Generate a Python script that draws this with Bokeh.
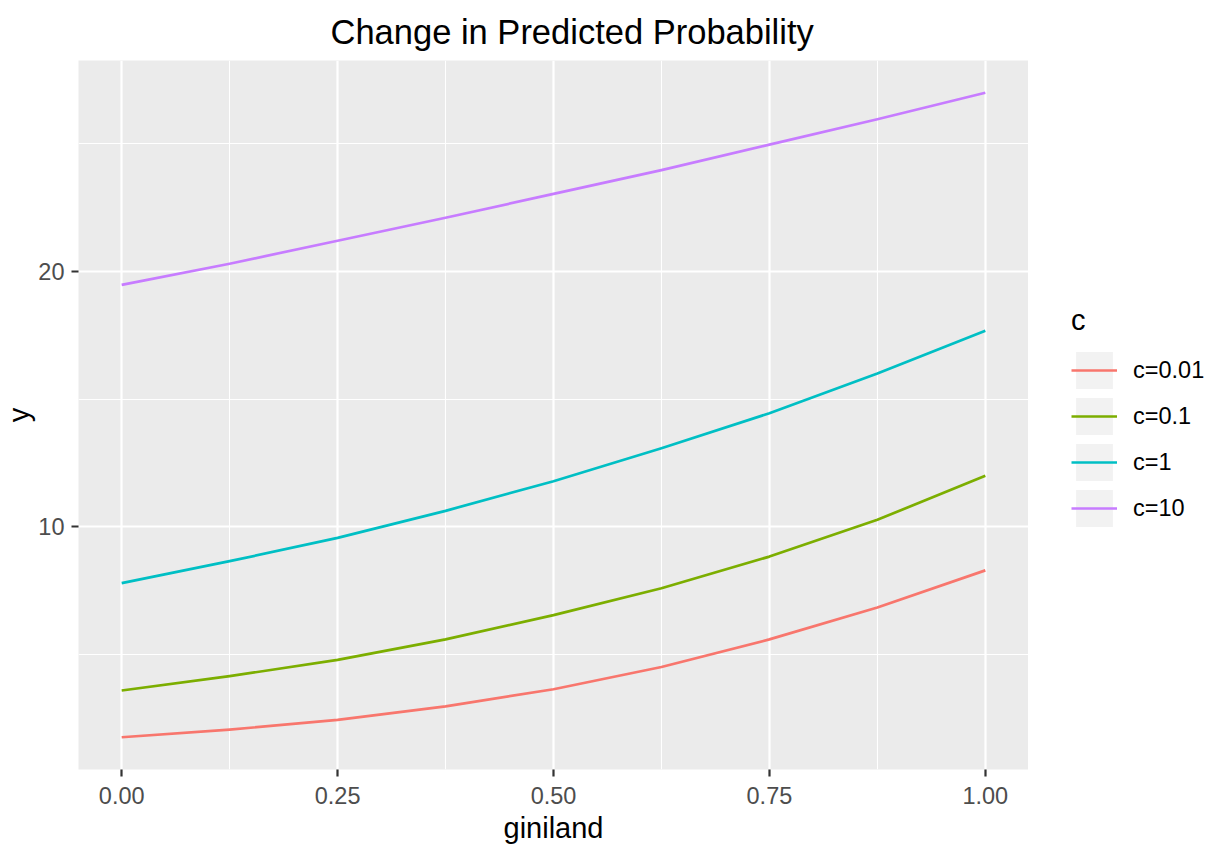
from bokeh.plotting import figure
from bokeh.layouts import row
from bokeh.models import (Legend, LegendItem, FixedTicker, NumeralTickFormatter, Range1d)
from bokeh.embed import file_html
from bokeh.resources import INLINE

# ---- data ----
giniland = [0.0, 0.125, 0.25, 0.375, 0.5, 0.625, 0.75, 0.875, 1.0]
y_c001 = [1.77, 2.07, 2.45, 2.98, 3.65, 4.52, 5.60, 6.85, 8.30]
y_c01 = [3.60, 4.16, 4.80, 5.60, 6.55, 7.60, 8.84, 10.28, 12.00]
y_c1 = [7.80, 8.66, 9.57, 10.63, 11.79, 13.08, 14.45, 16.00, 17.68]
y_c10 = [19.47, 20.30, 21.20, 22.10, 23.03, 23.96, 24.96, 25.95, 26.99]

series_labels = ["c=0.01", "c=0.1", "c=1", "c=10"]
series_values = [y_c001, y_c01, y_c1, y_c10]
series_colors = ["#F8766D", "#7CAE00", "#00BFC4", "#C77CFF"]

x_ticks = [0.0, 0.25, 0.5, 0.75, 1.0]
x_minor = [0.125, 0.375, 0.625, 0.875]
y_ticks = [10, 20]
y_minor = [5, 15, 25]

FONT = "Liberation Sans"

all_y = [v for s in series_values for v in s]
ymin, ymax = min(all_y), max(all_y)
ypad = 0.05 * (ymax - ymin)
xpad = 0.05 * (max(giniland) - min(giniland))
xr = Range1d(min(giniland) - xpad, max(giniland) + xpad)
yr = Range1d(ymin - ypad, ymax + ypad)

# ---- main panel ----
p = figure(width=1028, height=846, output_backend="svg", toolbar_location=None,
           x_range=xr, y_range=yr,
           min_border_left=78, min_border_right=0,
           min_border_top=59, min_border_bottom=74)

p.background_fill_color = "#EBEBEB"
p.border_fill_color = "white"
p.outline_line_color = None

p.title.text = "Change in Predicted Probability"
p.title.text_font = FONT
p.title.text_font_size = "34.5px"
p.title.text_font_style = "normal"
p.title.text_color = "black"
p.title.align = "left"
p.title.offset = 252
p.title.vertical_align = "bottom"
p.title.standoff = 20

p.xaxis.ticker = FixedTicker(ticks=x_ticks, minor_ticks=x_minor)
p.yaxis.ticker = FixedTicker(ticks=y_ticks, minor_ticks=y_minor)
p.xaxis.formatter = NumeralTickFormatter(format="0.00")
p.xaxis.axis_label = "giniland"
p.yaxis.axis_label = "y"

for ax in (p.xaxis, p.yaxis):
    ax.axis_line_color = None
    ax.major_tick_line_color = "#333333"
    ax.major_tick_line_width = 2.2
    ax.major_tick_out = 7
    ax.major_tick_in = 0
    ax.minor_tick_line_color = None
    ax.major_label_text_font = FONT
    ax.major_label_text_font_size = "23.5px"
    ax.major_label_text_color = "#4D4D4D"
    ax.axis_label_text_font = FONT
    ax.axis_label_text_font_size = "29px"
    ax.axis_label_text_font_style = "normal"
    ax.axis_label_text_color = "black"
p.xaxis.major_label_standoff = 10
p.xaxis.axis_label_standoff = 5
p.yaxis.major_label_standoff = 7
p.yaxis.axis_label_standoff = 0

for g in (p.xgrid, p.ygrid):
    g.grid_line_color = "white"
    g.grid_line_width = 2.2
    g.minor_grid_line_color = "white"
    g.minor_grid_line_width = 1.1

for ys, col in zip(series_values, series_colors):
    p.line(giniland, ys, line_color=col, line_width=2.7, line_join="round")

# ---- legend column (separate canvas to the right of the panel) ----
pl = figure(width=183, height=846, output_backend="svg", toolbar_location=None,
            x_range=xr, y_range=yr, x_axis_type=None, y_axis_type=None,
            min_border=0)
pl.outline_line_color = None
pl.background_fill_color = "white"
pl.border_fill_color = "white"
pl.grid.visible = False

items = []
for lab, ys, col in zip(series_labels, series_values, series_colors):
    key_bg = pl.quad(left=[giniland[0]], right=[giniland[0]], top=[ys[0]], bottom=[ys[0]],
                     fill_color="#F2F2F2", line_color=None, visible=False)
    key_line = pl.line(giniland, ys, line_color=col, line_width=2.7, visible=False)
    items.append(LegendItem(label=lab, renderers=[key_bg, key_line]))

legend = Legend(items=items, title="c", location=(43, 238))
legend.title_text_font = FONT
legend.title_text_font_size = "29px"
legend.title_text_font_style = "normal"
legend.title_text_color = "black"
legend.title_standoff = 10
legend.label_text_font = FONT
legend.label_text_font_size = "23.5px"
legend.label_text_color = "black"
legend.label_standoff = 16
legend.glyph_width = 46
legend.glyph_height = 46
legend.spacing = 0
legend.padding = 0
legend.margin = 0
legend.border_line_color = None
legend.background_fill_alpha = 0
pl.add_layout(legend)

layout = row(p, pl)
open("out.html", "w").write(file_html(layout, INLINE))
